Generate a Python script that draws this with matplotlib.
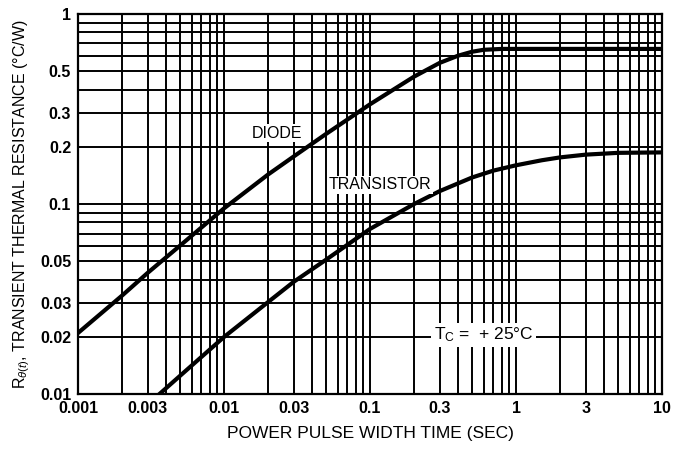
import matplotlib
matplotlib.use("Agg")
import matplotlib.pyplot as plt
from matplotlib.ticker import FixedLocator, FixedFormatter, LogLocator, NullFormatter

# values
diode_t = [0.001, 0.002, 0.003, 0.005, 0.01, 0.02, 0.03, 0.05, 0.1, 0.2,
           0.3, 0.4, 0.5, 0.6, 0.8, 1, 2, 5, 10]
diode_r = [0.021, 0.033, 0.0435, 0.0605, 0.095, 0.143, 0.178, 0.234, 0.335, 0.468,
           0.553, 0.603, 0.633, 0.648, 0.655, 0.655, 0.655, 0.655, 0.655]

trans_t = [0.0036, 0.005, 0.01, 0.02, 0.03, 0.05, 0.1, 0.2, 0.3, 0.5,
           0.7, 1, 1.5, 2, 3, 5, 10]
trans_r = [0.01, 0.0125, 0.02, 0.0305, 0.039, 0.051, 0.074, 0.1, 0.117, 0.138,
           0.15, 0.16, 0.17, 0.176, 0.182, 0.186, 0.187]

x_ticks = [0.001, 0.003, 0.01, 0.03, 0.1, 0.3, 1, 3, 10]
x_labels = ["0.001", "0.003", "0.01", "0.03", "0.1", "0.3", "1", "3", "10"]
y_ticks = [0.01, 0.02, 0.03, 0.05, 0.1, 0.2, 0.3, 0.5, 1]
y_labels = ["0.01", "0.02", "0.03", "0.05", "0.1", "0.2", "0.3", "0.5", "1"]

plt.rcParams['font.family'] = ['Liberation Sans', 'DejaVu Sans']
plt.rcParams['mathtext.fontset'] = 'custom'
plt.rcParams['mathtext.rm'] = 'Liberation Sans'
plt.rcParams['mathtext.it'] = 'Liberation Sans:italic'

fig = plt.figure(figsize=(6.79, 4.51), dpi=100)
ax = fig.add_axes([0.115, 0.126, 0.86, 0.843])

ax.set_xscale("log")
ax.set_yscale("log")
ax.set_xlim(0.001, 10)
ax.set_ylim(0.01, 1)

ax.xaxis.set_major_locator(FixedLocator(x_ticks))
ax.xaxis.set_major_formatter(FixedFormatter(x_labels))
ax.xaxis.set_minor_locator(LogLocator(base=10, subs=range(1, 10)))
ax.xaxis.set_minor_formatter(NullFormatter())
ax.yaxis.set_major_locator(FixedLocator(y_ticks))
ax.yaxis.set_major_formatter(FixedFormatter(y_labels))
ax.yaxis.set_minor_locator(LogLocator(base=10, subs=range(1, 10)))
ax.yaxis.set_minor_formatter(NullFormatter())

ax.grid(True, which='both', color='black', linewidth=1.4)
ax.tick_params(which='both', length=0, labelsize=11.5, pad=5)
for lbl in ax.get_xticklabels() + ax.get_yticklabels():
    lbl.set_fontweight('bold')
for s in ax.spines.values():
    s.set_linewidth(1.6)

ax.plot(diode_t, diode_r, color='black', linewidth=3, zorder=3)
ax.plot(trans_t, trans_r, color='black', linewidth=3, zorder=3)

ax.text(0.023, 0.236, "DIODE", fontsize=11.5, ha='center', va='center',
        bbox=dict(facecolor='white', edgecolor='none', pad=1), zorder=4)
ax.text(0.117, 0.126, "TRANSISTOR", fontsize=11.5, ha='center', va='center',
        bbox=dict(facecolor='white', edgecolor='none', pad=1), zorder=4)
ax.text(0.6, 0.0205, r"T$_\mathregular{C}$ =  + 25°C", fontsize=12.5,
        ha='center', va='center',
        bbox=dict(facecolor='white', edgecolor='none', pad=2), zorder=4)

ax.set_xlabel("POWER PULSE WIDTH TIME (SEC)", fontsize=12.5, labelpad=7)
ax.set_ylabel(r"R$_{\theta(t)}$, TRANSIENT THERMAL RESISTANCE (°C/W)",
              fontsize=11.5, labelpad=6)

fig.savefig("out.png", dpi=100, facecolor='white')
